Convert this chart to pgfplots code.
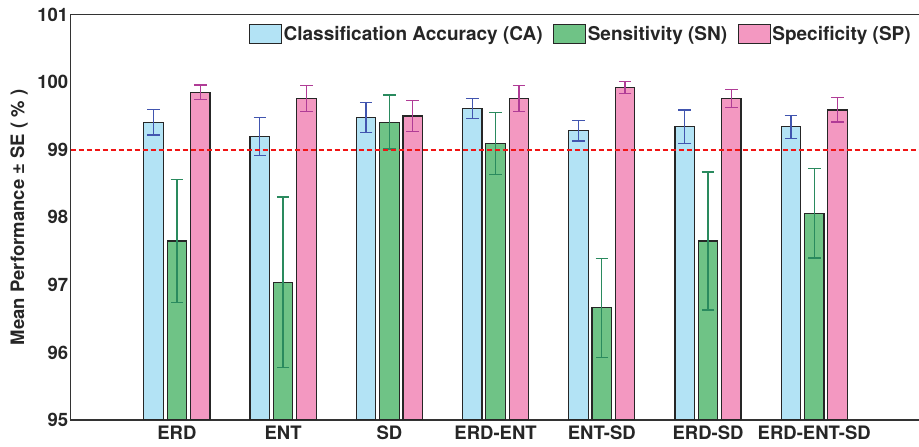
\documentclass[border=0pt]{standalone}
\usepackage{fontspec}
\setmainfont{TeX Gyre Heros}
\usepackage{pgfplots}
\usepackage{pgfplotstable}
\pgfplotsset{compat=1.18}
\definecolor{caFill}{HTML}{B3E3F5}
\definecolor{snFill}{HTML}{6FC386}
\definecolor{spFill}{HTML}{F398C1}
\definecolor{caErr}{HTML}{4155AF}
\definecolor{snErr}{HTML}{2A8A5E}
\definecolor{spErr}{HTML}{B03C96}
\definecolor{refRed}{RGB}{240,20,20}
\pgfplotstableread{
x y e
1 99.41 0.19
2 99.20 0.28
3 99.48 0.22
4 99.61 0.15
5 99.28 0.15
6 99.34 0.25
7 99.34 0.17
}\caData
\pgfplotstableread{
x y e
1 97.65 0.91
2 97.04 1.26
3 99.41 0.40
4 99.09 0.46
5 96.66 0.73
6 97.65 1.02
7 98.06 0.66
}\snData
\pgfplotstableread{
x y e
1 99.85 0.11
2 99.76 0.19
3 99.50 0.23
4 99.76 0.19
5 99.92 0.09
6 99.76 0.13
7 99.59 0.18
}\spData
\pgfplotstableread{
x y
0 99
8 99
}\refLine
\newcommand{\bigfont}{\fontsize{18.5}{22}\selectfont\bfseries}
\newcommand{\legfont}{\fontsize{19}{22}\selectfont\bfseries}
\begin{document}
\begin{tikzpicture}
\useasboundingbox (-70.7pt,-27pt) rectangle (848.3pt,420pt);
\begin{axis}[
  at={(0pt,0pt)}, anchor=south west,
  scale only axis, width=849.8pt, height=405.3pt,
  xmin=0, xmax=8, ymin=95, ymax=101,
  ytick={95,96,97,98,99,100,101},
  xtick={1,2,3,4,5,6,7},
  xticklabels={ERD,ENT,SD,ERD-ENT,ENT-SD,ERD-SD,ERD-ENT-SD},
  major tick length=0pt,
  /pgf/number format/assume math mode=true,
  tick label style={font=\bigfont, text=black!85},
  xticklabel style={yshift=-2pt},
  yticklabel style={xshift=1pt},
  ylabel={Mean Performance ± SE ( \% )},
  ylabel style={font=\bigfont, text=black!85, at={(axis description cs:-0.0608,0.5)}, anchor=center},
  axis line style={draw=black!80, line width=1.2pt},
  ybar, bar width=19.5pt,
  legend columns=3,
  legend style={draw=none, fill=none, font=\legfont, text=black!85,
    at={(axis description cs:0.994,0.952)}, anchor=east,
    /tikz/every even column/.append style={column sep=9pt},
    nodes={inner sep=1.5pt}},
  legend image code/.code={\draw[#1, line width=1.2pt] (0pt,-9.5pt) rectangle (32pt,9.5pt);},
]
\addplot[bar shift=-23.3pt, fill=caFill, draw=black!85, line width=1.2pt,
  error bars/.cd, y dir=both, y explicit,
  error bar style={color=caErr, line width=1.3pt},
  error mark options={rotate=90, mark size=6.3pt, color=caErr, line width=1.3pt}]
  table[x=x, y=y, y error=e] {\caData};
\addlegendentry{Classification Accuracy (CA)}
\addplot[bar shift=0pt, fill=snFill, draw=black!85, line width=1.2pt,
  error bars/.cd, y dir=both, y explicit,
  error bar style={color=snErr, line width=1.3pt},
  error mark options={rotate=90, mark size=6.3pt, color=snErr, line width=1.3pt}]
  table[x=x, y=y, y error=e] {\snData};
\addlegendentry{Sensitivity (SN)}
\addplot[bar shift=23.3pt, fill=spFill, draw=black!85, line width=1.2pt,
  error bars/.cd, y dir=both, y explicit,
  error bar style={color=spErr, line width=1.3pt},
  error mark options={rotate=90, mark size=6.3pt, color=spErr, line width=1.3pt}]
  table[x=x, y=y, y error=e] {\spData};
\addlegendentry{Specificity (SP)}
\addplot[sharp plot, draw=refRed, fill=none, line width=1.6pt, dash pattern=on 5pt off 3pt, forget plot] table[x=x, y=y] {\refLine};
\end{axis}
\end{tikzpicture}
\end{document}
